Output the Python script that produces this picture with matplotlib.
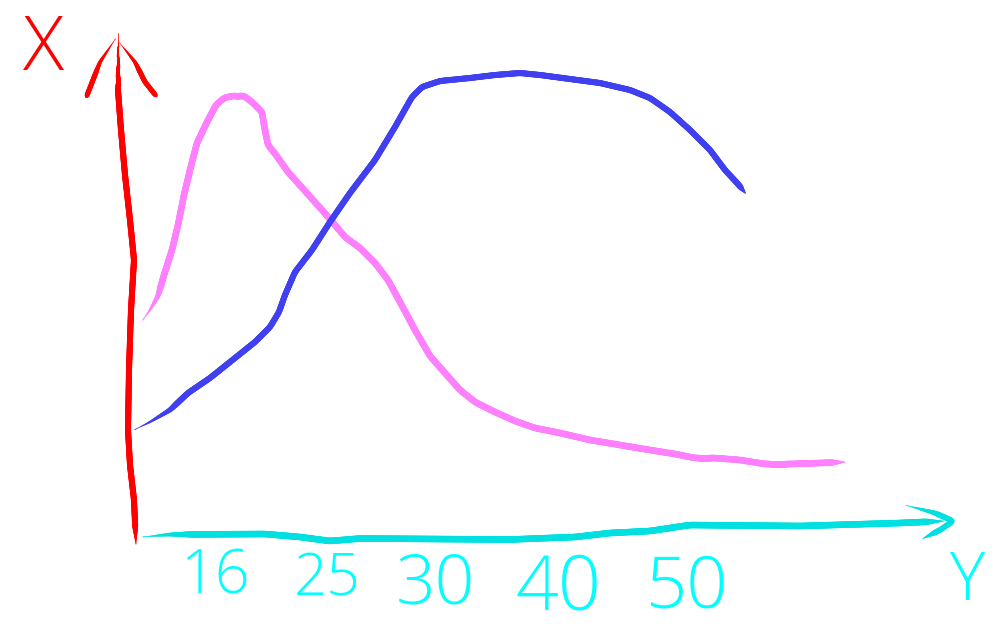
import numpy as np
import matplotlib
matplotlib.use("Agg")
import matplotlib.pyplot as plt
from matplotlib.collections import LineCollection

pink_x = [142,150,158,164,172,178,184,190,197,207,216,224,232,244,252,262,264,268,276,288,305,322,335,345,360,375,388,400,415,430,445,460,475,495,515,535,560,590,620,650,675,695,715,740,765,790,820,846]
pink_y = [321,310,296,275,250,225,195,170,143,122,105,98,96,96,102,112,125,145,155,172,191,210,225,237,248,263,280,302,330,356,373,390,402,412,421,428,433,440,445,450,454,458,458,460,464,464,463,462]
blue_x = [134,150,170,188,210,235,255,270,279,285,295,312,330,350,375,395,412,422,440,470,495,520,540,570,600,630,650,670,690,710,725,738,746]
blue_y = [430,422,410,393,378,358,342,327,312,295,272,250,222,193,160,127,97,87,81,78,75,73,75,79,83,90,98,112,130,150,170,184,194]

red_axis_x = [118,118,121,125,130,134,131,129,128,130,134,136]
red_axis_y = [32,90,130,175,220,260,310,370,430,465,500,545]
red_head_left_x = [116,100,86]
red_head_left_y = [38,62,98]
red_head_right_x = [119,135,145,157]
red_head_right_y = [42,62,82,97]

cyan_axis_x = [142,170,265,300,330,360,510,575,610,650,690,800,900,945]
cyan_axis_y = [537,534.5,534,537,541,538.5,539.5,537,533,531,525,526,523,521]
cyan_head_x = [905,935,953,940,922]
cyan_head_y = [505,513,521,530,539]

tick_labels = ["16", "25", "30", "40", "50"]
tick_x = [215, 327, 435, 558, 687]
tick_y = [578, 580, 586, 590, 589]
tick_size = [44, 42, 50, 54, 52]
x_name, y_name = "Y", "X"

PX = 0.72
fig = plt.figure(figsize=(10.04, 6.36), dpi=100)
ax = fig.add_axes([0, 0, 1, 1])
ax.set_xlim(0, 1004)
ax.set_ylim(636, 0)
ax.axis("off")


def stroke(x, y, color, width, taper_start=0.0, taper_end=0.0, z=2):
    """Draw a polyline resampled along its length, smoothed, tapering at either end."""
    x, y = np.asarray(x, float), np.asarray(y, float)
    s = np.r_[0, np.cumsum(np.hypot(np.diff(x), np.diff(y)))]
    n = max(int(s[-1]), 10)
    t = np.linspace(0, s[-1], n)
    px, py = np.interp(t, s, x), np.interp(t, s, y)
    k = min(9, n // 4) | 1
    kernel = np.hanning(k + 2)[1:-1]
    kernel /= kernel.sum()
    h = k // 2
    px = np.convolve(np.pad(px, h, mode="edge"), kernel, mode="valid")
    py = np.convolve(np.pad(py, h, mode="edge"), kernel, mode="valid")
    w = np.full(n, width * PX)
    if taper_start:
        w *= np.clip(t / taper_start, 0.12, 1)
    if taper_end:
        w *= np.clip((s[-1] - t) / taper_end, 0.12, 1)
    pts = np.column_stack([px, py])
    segs = np.stack([pts[:-1], pts[1:]], axis=1)
    ax.add_collection(LineCollection(segs, colors=color, linewidths=w[:-1],
                                     capstyle="round", zorder=z))


stroke(pink_x, pink_y, "#ff80ff", 6.5, taper_start=40, taper_end=15)
stroke(blue_x, blue_y, "#4040f0", 6, taper_start=50, taper_end=10, z=3)
stroke(red_axis_x, red_axis_y, "#ff0000", 6, taper_start=60, taper_end=20, z=4)
stroke(red_head_left_x, red_head_left_y, "#ff0000", 5, taper_start=40, taper_end=4, z=4)
stroke(red_head_right_x, red_head_right_y, "#ff0000", 5, taper_start=35, taper_end=4, z=4)
stroke(cyan_axis_x, cyan_axis_y, "#00e0e0", 6.5, taper_start=50, taper_end=20, z=4)
stroke(cyan_head_x, cyan_head_y, "#00e0e0", 5.5, taper_start=35, taper_end=15, z=4)

font = dict(family="Open Sans", weight="light", ha="center", va="center")
for lab, xx, yy, fs in zip(tick_labels, tick_x, tick_y, tick_size):
    ax.text(xx, yy, lab, color="#00ffff", fontsize=fs, **font)
ax.text(967, 583, x_name, color="#00ffff", fontsize=48, **font)
ax.text(44, 50, y_name, color="#ff0000", fontsize=55, **font)

fig.savefig("out.png", dpi=100, facecolor="white")
